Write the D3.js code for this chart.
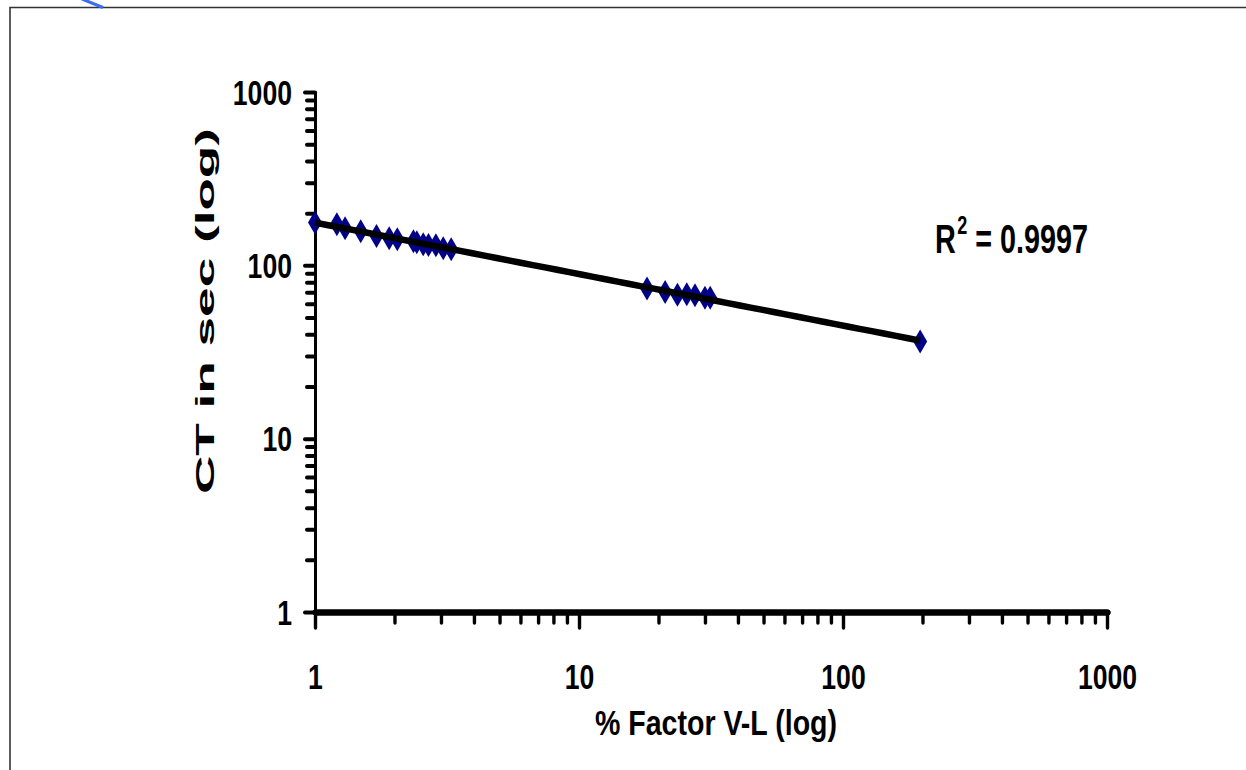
<!DOCTYPE html>
<html>
<head>
<meta charset="utf-8">
<script src="https://cdn.jsdelivr.net/npm/d3@7"></script>
<style>
  html, body { margin: 0; padding: 0; background: #fff; }
  svg { display: block; }
  text { font-family: "Liberation Sans", Arial, sans-serif; font-weight: bold; fill: #000; }
  .narrow { font-family: "Liberation Sans Narrow", "Arial Narrow", "Liberation Sans", Arial, sans-serif; }
</style>
</head>
<body>
<svg id="chart" width="1246" height="770"></svg>
<script>
// ---- data ----
const factorPct = [1, 1.21, 1.30, 1.49, 1.71, 1.91, 2.05, 2.36, 2.43, 2.57, 2.69, 2.87, 3.06, 3.28,
                   18.1, 21.2, 23.6, 25.6, 27.5, 30.0, 31.4, 196];
const ctSec     = [176.5, 172.6, 163.6, 157.2, 147.7, 143.2, 141.3, 137.6, 135.8, 132.2, 131.0, 130.5, 125.4, 123.8,
                   73.6, 70.1, 67.7, 68.0, 67.1, 65.1, 65.1, 36.4];
const majorTicks = [1, 10, 100, 1000];
const tickLabels = ["1", "10", "100", "1000"];
const xTitle = "% Factor V-L (log)";
const yTitle = "CT in sec (log)";
const r2Label = "0.9997";

const svg = d3.select("#chart");

// frame
svg.append("path").attr("d", "M10,770V7.5H1246").attr("fill", "none")
   .attr("stroke", "#333").attr("stroke-width", 1.6);
svg.append("line").attr("x1", 82).attr("y1", -1).attr("x2", 103).attr("y2", 7.5)
   .attr("stroke", "#3a6cf4").attr("stroke-width", 3);

const x = d3.scaleLog().domain([1, 1000]).range([315, 1107]);
const y = d3.scaleLog().domain([1, 1000]).range([612, 92]);

const allTicks = [];
for (let d = 1; d < 1000; d *= 10) for (let k = 1; k < 10; k++) allTicks.push(d * k);
allTicks.push(1000);
const minorTicks = allTicks.filter(v => !majorTicks.includes(v));

// y axis
const gy = svg.append("g").attr("transform", `translate(${x(1)},0)`);
gy.append("g").call(d3.axisLeft(y).tickValues(minorTicks).tickSize(8).tickSizeOuter(0).tickFormat(""));
gy.append("g").call(d3.axisLeft(y).tickValues(majorTicks).tickSize(10).tickSizeOuter(0)
   .tickFormat((d, i) => tickLabels[i]));
gy.selectAll(".domain").attr("stroke", "#000").attr("stroke-width", 3).attr("stroke-linecap", "round");
gy.selectAll(".tick line").attr("stroke", "#000").attr("stroke-width", 4).attr("stroke-linecap", "round");
gy.selectAll(".tick text").attr("class", "narrow").attr("x", -23).attr("dy", "0.35em").attr("font-size", 35)
   .attr("font-family", null).attr("text-anchor", "end")
   .attr("textLength", function() { return this.textContent.length * 14.8; })
   .attr("lengthAdjust", "spacingAndGlyphs");

// x axis
const gx = svg.append("g").attr("transform", `translate(0,${y(1)})`);
gx.append("g").call(d3.axisBottom(x).tickValues(minorTicks).tickSize(11).tickSizeOuter(0).tickFormat(""));
gx.append("g").call(d3.axisBottom(x).tickValues(majorTicks).tickSize(16).tickSizeOuter(0)
   .tickFormat((d, i) => tickLabels[i]));
gx.selectAll(".domain").attr("stroke", "#000").attr("stroke-width", 6).attr("stroke-linecap", "round");
gx.selectAll(".tick line").attr("stroke", "#000").attr("stroke-width", 3.4).attr("stroke-linecap", "round");
gx.selectAll(".tick text").attr("class", "narrow").attr("y", 77).attr("dy", 0).attr("font-size", 35)
   .attr("font-family", null).attr("text-anchor", "middle")
   .attr("textLength", function() { return this.textContent.length * 14.8; })
   .attr("lengthAdjust", "spacingAndGlyphs");
gy.raise();

// points
const pts = factorPct.map((v, i) => ({ x: v, y: ctSec[i] }));
const hw = 7, hh = 12;
svg.append("g").selectAll("path").data(pts).join("path")
   .attr("d", d => {
     const cx = x(d.x), cy = y(d.y);
     return `M${cx},${cy - hh}L${cx + hw},${cy}L${cx},${cy + hh}L${cx - hw},${cy}Z`;
   })
   .attr("fill", "#000088");

// power trend line (least squares in log space)
const lx = pts.map(p => Math.log10(p.x)), ly = pts.map(p => Math.log10(p.y));
const mx = d3.mean(lx), my = d3.mean(ly);
const b = d3.sum(lx.map((v, i) => (v - mx) * (ly[i] - my))) / d3.sum(lx.map(v => (v - mx) ** 2));
const a = my - b * mx;
const xExt = d3.extent(factorPct);
const trend = d3.range(0, 51).map(i => {
  const lv = Math.log10(xExt[0]) + (Math.log10(xExt[1]) - Math.log10(xExt[0])) * i / 50;
  return { x: 10 ** lv, y: 10 ** (a + b * lv) };
});
svg.append("path").datum(trend)
   .attr("d", d3.line().x(d => x(d.x)).y(d => y(d.y)))
   .attr("fill", "none").attr("stroke", "#000").attr("stroke-width", 6.5).attr("stroke-linecap", "butt");

// R^2 label (one text, compressed horizontally)
const r2 = svg.append("text").attr("class", "narrow").attr("transform", "translate(935,253) scale(0.72,1)")
   .attr("font-size", 40);
r2.append("tspan").text("R");
r2.append("tspan").attr("font-size", 25).attr("dy", -19).attr("dx", 2).text("2");
r2.append("tspan").attr("dy", 19).text(" = " + r2Label);

// axis titles
svg.append("text").attr("class", "narrow").attr("x", 716).attr("y", 735).attr("font-size", 35)
   .attr("text-anchor", "middle")
   .attr("textLength", 242).attr("lengthAdjust", "spacingAndGlyphs").text(xTitle);
svg.append("text").attr("transform", "translate(214,311) rotate(-90)").attr("font-size", 26)
   .attr("text-anchor", "middle")
   .attr("textLength", 366).attr("lengthAdjust", "spacingAndGlyphs").text(yTitle);
</script>
</body>
</html>
